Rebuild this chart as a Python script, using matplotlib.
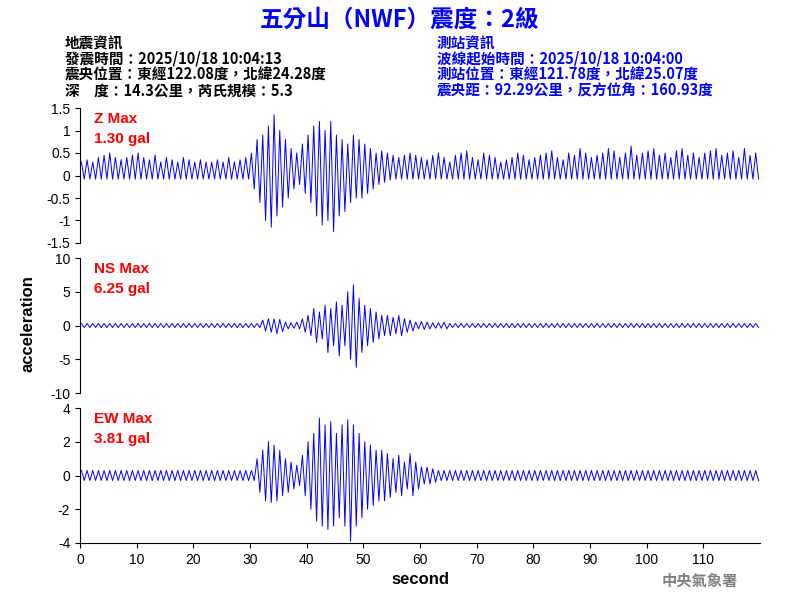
import matplotlib
matplotlib.use("Agg")
import matplotlib.pyplot as plt
import numpy as np

plt.rcParams["font.family"] = ["Noto Sans CJK TC", "DejaVu Sans"]

# per-second envelope (upper / lower peaks)
Z_UP = [0.3, 0.35, 0.3, 0.4, 0.45, 0.5, 0.4, 0.35, 0.4, 0.45, 0.5, 0.4, 0.35, 0.45, 0.3, 0.4, 0.35, 0.3, 0.4, 0.35,
        0.3, 0.35, 0.3, 0.3, 0.35, 0.3, 0.4, 0.3, 0.35, 0.4, 0.5, 0.8, 0.9, 1.1, 1.35, 1.0, 0.8, 0.6, 0.5, 0.7,
        0.9, 1.1, 1.2, 1.0, 1.2, 0.9, 0.8, 0.7, 0.9, 0.8, 0.7, 0.6, 0.5, 0.55, 0.5, 0.45, 0.4, 0.45, 0.5, 0.45,
        0.4, 0.35, 0.45, 0.5, 0.4, 0.3, 0.45, 0.5, 0.55, 0.4, 0.35, 0.5, 0.45, 0.4, 0.3, 0.35, 0.4, 0.5, 0.45, 0.35,
        0.4, 0.45, 0.5, 0.55, 0.4, 0.35, 0.5, 0.45, 0.6, 0.5, 0.4, 0.45, 0.5, 0.6, 0.55, 0.4, 0.5, 0.65, 0.45, 0.5,
        0.55, 0.6, 0.45, 0.5, 0.4, 0.55, 0.6, 0.45, 0.5, 0.4, 0.5, 0.55, 0.6, 0.45, 0.5, 0.55, 0.4, 0.6, 0.45, 0.5]
Z_LO = [-0.08] * 30 + [-0.3, -0.6, -1.0, -1.15, -0.9, -0.7, -0.5, -0.3, -0.2, -0.4,
                       -0.6, -0.9, -1.1, -1.0, -1.25, -0.9, -0.8, -0.6, -0.5, -0.5,
                       -0.4, -0.3, -0.2, -0.15, -0.1] + [-0.08] * 65

NS_UP = [0.3] * 32 + [0.8, 1.0, 1.0, 0.9, 0.5, 0.4, 0.5, 1.0,
                      1.5, 2.5, 2.0, 3.0, 2.5, 3.5, 3.0, 5.0, 6.0, 4.0,
                      3.0, 2.5, 2.0, 1.5, 1.5, 1.2, 1.5, 1.0, 0.8, 0.5,
                      0.6, 0.5, 0.4, 0.4, 0.5] + [0.3] * 55
NS_LO = [-0.3] * 32 + [-0.8, -1.0, -1.2, -0.9, -0.5, -0.4, -0.5, -1.0,
                       -1.5, -2.5, -2.0, -4.0, -3.0, -4.5, -3.0, -5.0, -6.2, -4.0,
                       -3.0, -2.5, -2.0, -1.5, -1.5, -1.2, -1.5, -1.0, -0.8, -0.5,
                       -0.6, -0.5, -0.4, -0.4, -0.5] + [-0.3] * 55

EW_UP = [0.3] * 31 + [1.0, 1.5, 2.0, 1.8, 1.5, 1.0, 0.8, 0.6, 1.2,
                      2.0, 2.5, 3.4, 3.0, 3.2, 2.5, 3.0, 3.3, 3.0, 2.5,
                      2.0, 1.8, 1.5, 1.5, 1.3, 1.0, 1.2, 0.8, 1.3, 0.8,
                      0.5, 0.5, 0.4] + [0.3] * 57
EW_LO = [-0.3] * 31 + [-1.0, -1.5, -1.6, -1.5, -1.2, -1.0, -0.8, -0.6, -1.2,
                       -2.0, -2.7, -3.0, -3.2, -3.0, -2.5, -3.0, -3.9, -3.0, -2.5,
                       -2.0, -1.8, -1.5, -1.5, -1.3, -1.0, -1.2, -0.8, -1.2, -0.8,
                       -0.5, -0.5, -0.4] + [-0.3] * 57

PANELS = [
    ("Z Max\n1.30 gal", Z_UP, Z_LO, (-1.5, 1.5), [-1.5, -1, -0.5, 0, 0.5, 1, 1.5], ["-1.5", "-1", "-0.5", "0", "0.5", "1", "1.5"]),
    ("NS Max\n6.25 gal", NS_UP, NS_LO, (-10, 10), [-10, -5, 0, 5, 10], ["-10", "-5", "0", "5", "10"]),
    ("EW Max\n3.81 gal", EW_UP, EW_LO, (-4, 4), [-4, -2, 0, 2, 4], ["-4", "-2", "0", "2", "4"]),
]
BOXES = [(0.1, 0.595, 0.85, 0.225), (0.1, 0.345, 0.85, 0.225), (0.1, 0.095, 0.85, 0.225)]

fig = plt.figure(figsize=(8, 6), dpi=100)

for (label, up, lo, ylim, yt, ytl), box in zip(PANELS, BOXES):
    ax = fig.add_axes(box)
    sec = np.arange(len(up))
    x = np.ravel(np.column_stack([sec + 0.25, sec + 0.75]))
    y = np.ravel(np.column_stack([up, lo]))
    ax.plot(x, y, color="blue", linewidth=0.7)
    ax.set_xlim(0, 120)
    ax.set_ylim(*ylim)
    ax.set_yticks(yt)
    ax.set_yticklabels(ytl, fontsize=10, family="Liberation Sans")
    for s in ("top", "right"):
        ax.spines[s].set_visible(False)
    ax.text(0.02, 0.97, label, transform=ax.transAxes, color="red", fontsize=11, fontweight="bold",
            va="top", ha="left", family="Liberation Sans", linespacing=1.5)
    if box[1] > 0.1:
        ax.spines["bottom"].set_visible(False)
        ax.set_xticks([])
    else:
        ax.set_xticks(np.arange(0, 120, 10))
        ax.set_xticklabels([str(v) for v in range(0, 120, 10)], fontsize=10, family="Liberation Sans")
        ax.set_xlabel("second", fontsize=12, fontweight="bold", family="Liberation Sans")

fig.text(0.035, 0.46, "acceleration", rotation=90, va="center", ha="center", fontsize=12,
         fontweight="bold", family="Liberation Sans")

fig.text(0.5, 0.968, "五分山（NWF）震度：2級", color="blue", fontsize=17, fontweight="bold", ha="center", va="center")

LEFT_LINES = ["地震資訊", "發震時間：2025/10/18 10:04:13", "震央位置：東經122.08度，北緯24.28度", "深　度：14.3公里，芮氏規模：5.3"]
RIGHT_LINES = ["測站資訊", "波線起始時間：2025/10/18 10:04:00", "測站位置：東經121.78度，北緯25.07度", "震央距：92.29公里，反方位角：160.93度"]
for i, (l, r) in enumerate(zip(LEFT_LINES, RIGHT_LINES)):
    yy = 1 - (43 + 16 * i) / 600
    fig.text(0.081, yy, l, color="black", fontsize=10.5, fontweight="bold", va="center")
    fig.text(0.546, yy, r, color="blue", fontsize=10.5, fontweight="bold", va="center")

fig.text(0.875, 0.032, "中央氣象署", color="gray", fontsize=11, fontweight="bold", ha="center", va="center")

fig.savefig("out.png", dpi=100)
